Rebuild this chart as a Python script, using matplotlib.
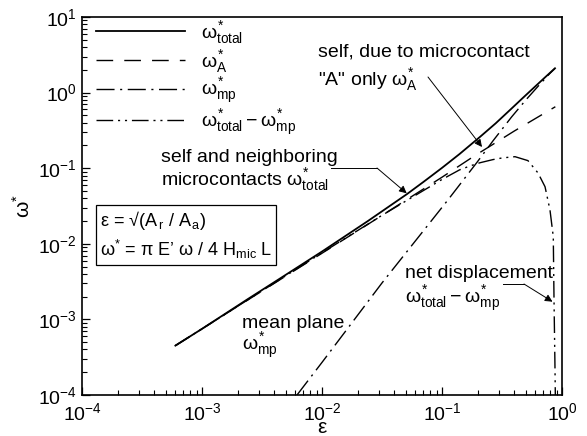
import numpy as np
import matplotlib
matplotlib.use("Agg")
import matplotlib.pyplot as plt

plt.rcParams['font.family'] = ['Liberation Sans', 'DejaVu Sans']
plt.rcParams['mathtext.fontset'] = 'custom'
plt.rcParams['mathtext.rm'] = 'Liberation Sans'
plt.rcParams['mathtext.it'] = 'Liberation Sans'
plt.rcParams['mathtext.sf'] = 'Liberation Sans'

# total deflection (self + neighbouring microcontacts)
eps_total = [6.0e-4, 1.0e-3, 2.4e-3, 4.5e-3, 1.0e-2, 2.4e-2, 5.1e-2, 0.07, 0.1, 0.14,
             0.207, 0.28, 0.38, 0.47, 0.6, 0.72, 0.874]
w_total = [4.5e-4, 7.5e-4, 1.85e-3, 3.5e-3, 7.9e-3, 1.99e-2, 4.54e-2, 0.0658, 0.101, 0.154,
           0.259, 0.392, 0.616, 0.846, 1.212, 1.584, 2.098]

# self deflection, microcontact "A" only
eps_A = [6.0e-4, 1.0e-3, 1.0e-2, 2.36e-2, 0.1, 0.182, 0.4, 0.88]
w_A = [4.5e-4, 7.5e-4, 7.5e-3, 1.77e-2, 7.6e-2, 0.142, 0.31, 0.65]

# mean plane
eps_mp = [6.19e-3, 1.0e-2, 3.16e-2, 0.112, 0.196, 0.266, 0.38, 0.5, 0.631, 0.794, 0.874]
w_mp = [1.0e-4, 2.7e-4, 3.03e-3, 3.8e-2, 0.12, 0.23, 0.476, 0.80, 1.21, 1.80, 2.09]

# net displacement = total - mean plane
eps_net = [6.0e-4, 1.0e-3, 1.0e-2, 3.04e-2, 5.1e-2, 0.1, 0.14, 0.171, 0.207, 0.266,
           0.32, 0.406, 0.52, 0.631, 0.722, 0.794, 0.846, 0.858, 0.872, 0.88]
w_net = [4.5e-4, 7.5e-4, 7.6e-3, 2.29e-2, 3.75e-2, 7.1e-2, 9.5e-2, 0.107, 0.118, 0.13,
         0.137, 0.142, 0.126, 0.0865, 0.0569, 0.028, 0.0124, 1.8e-3, 3.0e-4, 1.0e-4]

lab_total = r"$\omega^{*}_{\mathrm{total}}$"
lab_A = r"$\omega^{*}_{\mathrm{A}}$"
lab_mp = r"$\omega^{*}_{\mathrm{mp}}$"
lab_net = r"$\omega^{*}_{\mathrm{total}} - \omega^{*}_{\mathrm{mp}}$"

fig = plt.figure(figsize=(5.87, 4.36), dpi=100)
ax = fig.add_axes([82/587, 1-395/436, 480/587, 378/436])

lw = 1.0
ax.plot(eps_total, w_total, color='k', lw=1.3, label=lab_total)
ax.plot(eps_A, w_A, color='k', lw=lw, dashes=(12, 8), label=lab_A)
ax.plot(eps_mp, w_mp, color='k', lw=lw, dashes=(13, 4, 1.5, 4), label=lab_mp)
ax.plot(eps_net, w_net, color='k', lw=lw, dashes=(12, 3.5, 1.5, 3.5, 1.5, 3.5), label=lab_net)

ax.set_xscale('log')
ax.set_yscale('log')
ax.set_xlim(1e-4, 1e0)
ax.set_ylim(1e-4, 1e1)

ax.tick_params(which='both', direction='in', top=False, right=False, labelsize=14)
ax.tick_params(which='major', length=6, width=0.9)
ax.tick_params(which='minor', length=3.5, width=0.8)
ax.tick_params(axis='x', pad=5)
for s in ax.spines.values():
    s.set_linewidth(1.2)

ax.set_xlabel(r"$\mathrm{\epsilon}$", fontsize=15, labelpad=-4)
ax.set_ylabel(r"$\mathrm{\omega}^{*}$", fontsize=15, labelpad=3)

leg = ax.legend(loc='upper left', bbox_to_anchor=(0.0, 1.03), frameon=False,
                fontsize=14, handlelength=4.6, handletextpad=0.8, labelspacing=0.08,
                borderaxespad=0.3)

def px(x, y):
    # pixel position on the figure -> data coordinates
    return 10 ** (-4 + (x - 82) / 120), 10 ** (-4 + (395 - y) / 75.6)

fs = 14
arrow = dict(arrowstyle='-|>', color='k', lw=0.7, mutation_scale=11, shrinkA=0, shrinkB=0)
line_kw = dict(color='k', lw=0.7)

# self, due to microcontact A
ax.text(*px(318, 57), "self, due to microcontact", fontsize=fs, va='baseline')
ax.text(*px(318, 85), '"A" only ' + lab_A, fontsize=fs, va='baseline')
ax.annotate("", xy=px(482, 147), xytext=px(428, 77), arrowprops=arrow)

# self and neighbouring
ax.text(*px(161, 162), "self and neighboring", fontsize=fs, va='baseline')
ax.text(*px(161, 185), "microcontacts " + lab_total, fontsize=fs, va='baseline')
ax.plot(*zip(px(331, 168), px(377, 168)), **line_kw)
ax.annotate("", xy=px(406.7, 193.3), xytext=px(377, 168), arrowprops=arrow)

# formula box
ax.text(*px(100, 256), "ε = √(A$_{\\,r}$ / A$_{\\,a}$)\n" +
        "ω$^{*}$ = π E’ ω / 4 H$_{\\mathrm{mic}}$ L",
        fontsize=13, va='baseline', linespacing=1.3,
        bbox=dict(boxstyle='square,pad=0.2', fc='white', ec='k', lw=0.9))

# mean plane
ax.text(*px(242, 328), "mean plane", fontsize=fs, va='baseline')
ax.text(*px(242, 350), lab_mp, fontsize=fs, va='baseline')

# net displacement
ax.text(*px(405, 278), "net displacement", fontsize=fs, va='baseline')
ax.text(*px(405, 303), lab_net, fontsize=fs, va='baseline')
ax.plot(*zip(px(503, 284), px(524, 284)), **line_kw)
ax.annotate("", xy=px(552.5, 301.7), xytext=px(524, 284), arrowprops=arrow)

fig.savefig("out.png", dpi=100)
